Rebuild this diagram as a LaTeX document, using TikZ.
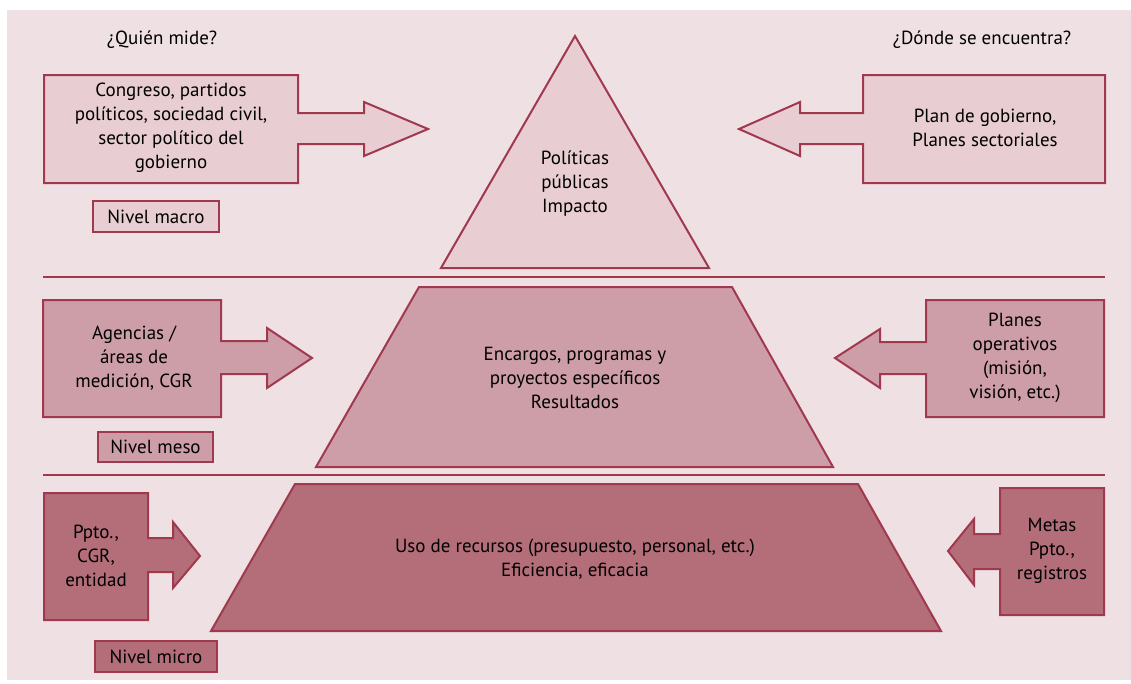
\documentclass[tikz,border=0pt]{standalone}
\usepackage{fontspec}
\setmainfont{PT Sans}
\begin{document}
\definecolor{bgpink}{RGB}{239,224,227}
\definecolor{fillmacro}{RGB}{232,205,210}
\definecolor{fillmeso}{RGB}{206,158,168}
\definecolor{fillmicro}{RGB}{179,110,122}
\definecolor{edgered}{RGB}{160,56,78}
\begin{tikzpicture}[x=1pt,y=-1pt,
  shapeline/.style={draw=edgered,line width=2pt,line join=miter},
  macroshape/.style={shapeline,fill=fillmacro},
  mesoshape/.style={shapeline,fill=fillmeso},
  microshape/.style={shapeline,fill=fillmicro},
  divider/.style={draw=edgered,line width=2pt},
  txt/.style={align=center,inner sep=0pt,font=\fontsize{19}{24}\selectfont},
  levelbox/.style={draw=edgered,line width=2pt,inner sep=0pt,font=\fontsize{19}{24}\selectfont}
]
\useasboundingbox (0,0) rectangle (1131,683);
\fill[white] (0,0) rectangle (1131,683);
\fill[bgpink] (7,10) rectangle (1131,680);

% section dividers
\draw[divider] (43,277) -- (1105,277);
\draw[divider] (43,475) -- (1105,475);

% pyramid levels
\draw[macroshape] (575,36) -- (709,268) -- (441,268) -- cycle;
\draw[mesoshape] (419,287) -- (732,287) -- (833,467) -- (316,467) -- cycle;
\draw[microshape] (295,484) -- (858,484) -- (941,631) -- (211,631) -- cycle;

\node[txt] (impacto) at (575,184) {Políticas\\públicas\\Impacto};
\node[txt] (resultados) at (575,378) {Encargos, programas y\\proyectos específicos\\Resultados};
\node[txt] (recursos) at (575,559) {Uso de recursos (presupuesto, personal, etc.)\\Eficiencia, eficacia};

% column headings
\node[txt] (quien) at (162,40) {¿Quién mide?};
\node[txt] (donde) at (982,40) {¿Dónde se encuentra?};

% macro level: arrow boxes
\draw[macroshape] (44,75) -- (298,75) -- (298,113) -- (364,113) -- (364,102) -- (428,129)
  -- (364,156) -- (364,144) -- (298,144) -- (298,183) -- (44,183) -- cycle;
\node[txt] (quienmacro) at (171,128) {Congreso, partidos\\políticos, sociedad civil,\\sector político del\\gobierno};
\draw[macroshape] (1105,75) -- (863,75) -- (863,113) -- (800,113) -- (800,102) -- (739,129)
  -- (800,156) -- (800,144) -- (863,144) -- (863,183) -- (1105,183) -- cycle;
\node[txt] (dondemacro) at (985,128) {Plan de gobierno,\\Planes sectoriales};
\node[levelbox,fill=fillmacro,minimum width=126pt,minimum height=31pt] (nmacro) at (156,216.5) {Nivel macro};

% meso level: arrow boxes
\draw[mesoshape] (43,300) -- (221,300) -- (221,341) -- (267,341) -- (267,328) -- (312,358)
  -- (267,388) -- (267,374) -- (221,374) -- (221,417) -- (43,417) -- cycle;
\node[txt] (quienmeso) at (134,358) {Agencias /\\áreas de\\medición, CGR};
\draw[mesoshape] (1104,300) -- (926,300) -- (926,342) -- (880,342) -- (880,329) -- (835,358)
  -- (880,388) -- (880,374) -- (926,374) -- (926,417) -- (1104,417) -- cycle;
\node[txt] (dondemeso) at (1015,358) {Planes\\operativos\\(misión,\\visión, etc.)};
\node[levelbox,fill=fillmeso,minimum width=115pt,minimum height=30pt] (nmeso) at (155.5,447) {Nivel meso};

% micro level: arrow boxes
\draw[microshape] (44,493) -- (148,493) -- (148,538) -- (173,538) -- (173,522) -- (200,556)
  -- (173,588) -- (173,572) -- (148,572) -- (148,620) -- (44,620) -- cycle;
\node[txt] (quienmicro) at (96,556) {Ppto.,\\CGR,\\entidad};
\draw[microshape] (1104,488) -- (1000,488) -- (1000,534) -- (974,534) -- (974,519) -- (948,551)
  -- (974,585) -- (974,569) -- (1000,569) -- (1000,615) -- (1104,615) -- cycle;
\node[txt] (dondemicro) at (1052,551) {Metas\\Ppto.,\\registros};
\node[levelbox,fill=fillmicro,minimum width=122pt,minimum height=31pt] (nmicro) at (156,656.5) {Nivel micro};
\end{tikzpicture}
\end{document}
